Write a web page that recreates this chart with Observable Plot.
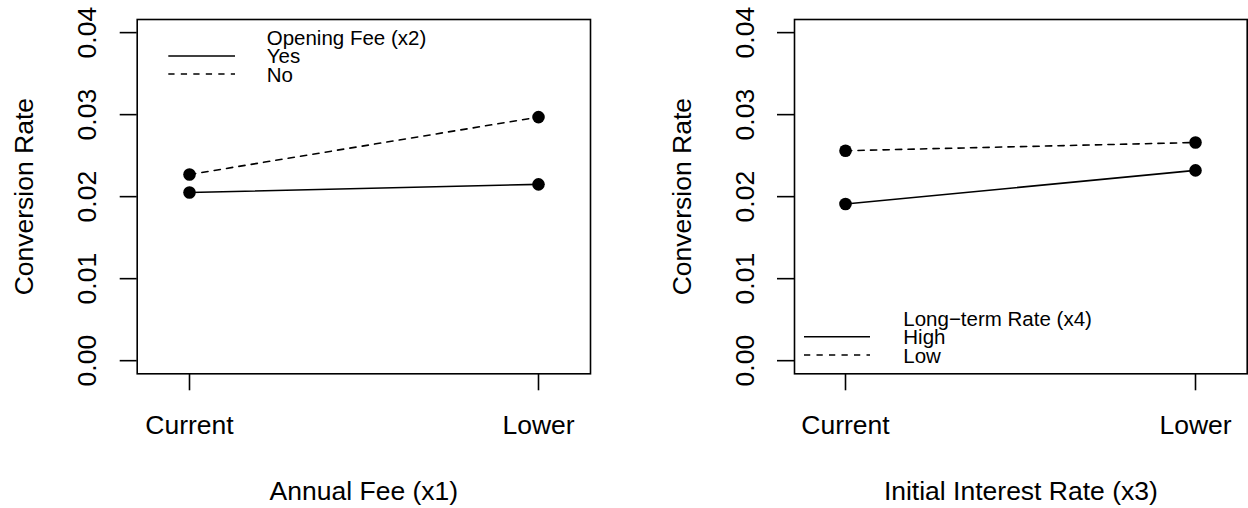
<!DOCTYPE html>
<html>
<head>
<meta charset="utf-8">
<script src="https://cdn.jsdelivr.net/npm/d3@7"></script>
<script src="https://cdn.jsdelivr.net/npm/@observablehq/plot@0.6"></script>
<style>
  html, body { margin: 0; padding: 0; background: #fff; }
  #wrap { display: flex; width: 1248px; height: 508px; }
  #wrap svg { display: block; }
</style>
</head>
<body>
<div id="wrap"></div>
<script>
// ---- data ----
const xCategories = ["Current", "Lower"];
const yTicks = [0, 0.01, 0.02, 0.03, 0.04];
const yTickLabels = ["0.00", "0.01", "0.02", "0.03", "0.04"];
const yLabel = "Conversion Rate";

const panel1Title = "Annual Fee (x1)";
const panel1LegendTitle = "Opening Fee (x2)";
const panel1Series = ["Yes", "No"];
const panel1Yes = [0.0205, 0.0215];
const panel1No = [0.0227, 0.0297];

const panel2Title = "Initial Interest Rate (x3)";
const panel2LegendTitle = "Long\u2212term Rate (x4)";
const panel2Series = ["High", "Low"];
const panel2High = [0.0191, 0.0232];
const panel2Low = [0.0256, 0.0266];

// ---- styling ----
const FONT = "'Liberation Sans', Arial, Helvetica, sans-serif";
const FS = 26.5;
const LFS = 20.5;
const LW = 1.6;
const DASH = "6.25,6.25";

function rowsFor(series, values) {
  return xCategories.map((c, i) => ({x: c, y: values[i], series}));
}

function legendMark(title, labels, anchor, pos) {
  return (index, scales, values, dims) => {
    const g = d3.create("svg:g")
      .attr("font-family", FONT).attr("font-size", LFS)
      .attr("fill", "black").attr("text-anchor", "start");
    const ox = dims.marginLeft;
    const oy = anchor === "top" ? dims.marginTop : dims.height - dims.marginBottom;
    g.append("text").attr("x", ox + pos.tx).attr("y", oy + pos.title).text(title);
    labels.forEach((lab, i) => {
      g.append("text").attr("x", ox + pos.tx).attr("y", oy + pos.items[i]).text(lab);
      g.append("line")
        .attr("x1", ox + pos.lx1).attr("x2", ox + pos.lx2)
        .attr("y1", oy + pos.lines[i]).attr("y2", oy + pos.lines[i])
        .attr("stroke", "black").attr("stroke-width", LW)
        .attr("stroke-dasharray", i === 0 ? null : DASH);
    });
    return g.node();
  };
}

function panel({marginLeft, marginRight, padding, a, b, series, xTitle, legend}) {
  const rowsA = rowsFor(series[0], a);
  const rowsB = rowsFor(series[1], b);
  return Plot.plot({
    width: 624,
    height: 508,
    marginLeft, marginRight,
    marginTop: 19,
    marginBottom: 134.7,
    style: {fontFamily: FONT, background: "white", color: "black"},
    x: {type: "point", domain: xCategories, padding, axis: null, label: null},
    y: {domain: [-0.0016, 0.0416], axis: null, label: null},
    marks: [
      Plot.frame({stroke: "black", strokeWidth: LW}),
      Plot.axisX({tickSize: 17, strokeWidth: LW, tickFormat: () => "", label: null}),
      Plot.axisY({ticks: yTicks, tickSize: 17, strokeWidth: LW, tickFormat: () => "", label: null}),
      Plot.text(xCategories, {x: d => d, frameAnchor: "bottom", dy: 59.7, lineAnchor: "bottom", fontSize: FS, fill: "black"}),
      Plot.text(yTicks, {y: d => d, text: (d, i) => yTickLabels[i], frameAnchor: "left", dx: -41, rotate: -90, textAnchor: "middle", lineAnchor: "bottom", fontSize: FS, fill: "black"}),
      Plot.text([xTitle], {frameAnchor: "bottom", dy: 125.7, lineAnchor: "bottom", fontSize: FS, fill: "black"}),
      Plot.text([yLabel], {frameAnchor: "left", dx: -104, rotate: -90, textAnchor: "middle", lineAnchor: "bottom", fontSize: FS, fill: "black"}),
      Plot.line(rowsA, {x: "x", y: "y", stroke: "black", strokeWidth: LW}),
      Plot.line(rowsB, {x: "x", y: "y", stroke: "black", strokeWidth: LW, strokeDasharray: DASH}),
      Plot.dot([...rowsA, ...rowsB], {x: "x", y: "y", r: 6.3, fill: "black", stroke: "none"}),
      legend
    ]
  });
}

const left = panel({
  marginLeft: 136.7, marginRight: 34, padding: 0.148,
  a: panel1Yes, b: panel1No, series: panel1Series, xTitle: panel1Title,
  legend: legendMark(panel1LegendTitle, panel1Series, "top",
    {tx: 130, title: 26, items: [44.3, 62.7], lines: [37, 55], lx1: 31.6, lx2: 98.3})
});
const right = panel({
  marginLeft: 170, marginRight: 1.3, padding: 0.146,
  a: panel2High, b: panel2Low, series: panel2Series, xTitle: panel2Title,
  legend: legendMark(panel2LegendTitle, panel2Series, "bottom",
    {tx: 109.3, title: -47.3, items: [-29, -10.6], lines: [-36.6, -18.3], lx1: 10, lx2: 76})
});
document.getElementById("wrap").append(left, right);
</script>
</body>
</html>
